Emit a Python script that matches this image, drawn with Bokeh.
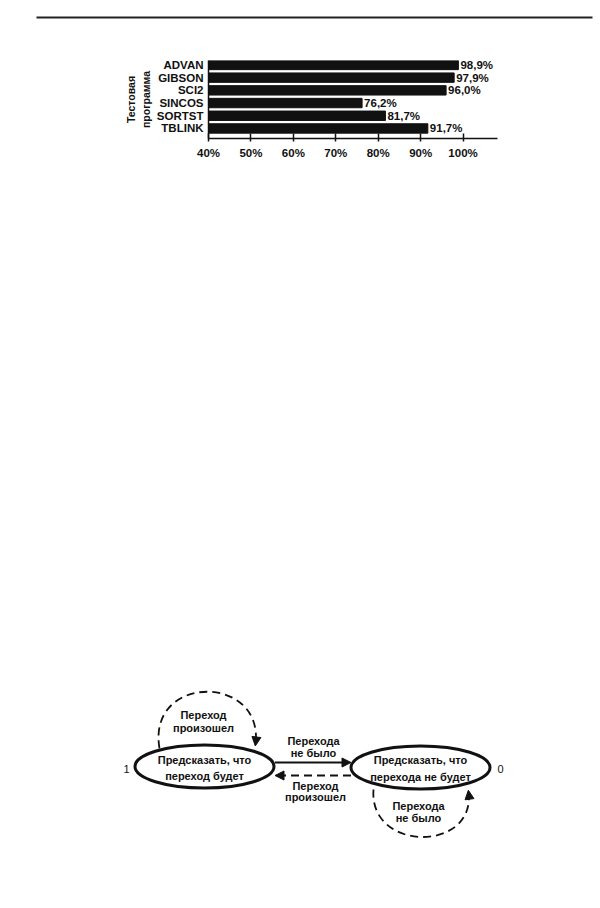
from bokeh.plotting import figure
from bokeh.models import Range1d, FixedTicker, Arrow, NormalHead
from bokeh.layouts import column
from bokeh.embed import file_html
from bokeh.resources import INLINE
from bokeh.core.properties import value

# ---------------- data: bar chart ----------------
programs = ["ADVAN", "GIBSON", "SCI2", "SINCOS", "SORTST", "TBLINK"]
accuracy = [98.9, 97.9, 96.0, 76.2, 81.7, 91.7]
x_ticks = [40, 50, 60, 70, 80, 90, 100]
x_tick_labels = ["40%", "50%", "60%", "70%", "80%", "90%", "100%"]
y_axis_title = "Тестовая\nпрограмма"

# ---------------- data: state diagram ----------------
state_codes = ["1", "0"]
state_line1 = ["Предсказать, что", "Предсказать, что"]
state_line2 = ["переход будет", "перехода не будет"]
taken_1 = "Переход"
taken_2 = "произошел"
not_taken_1 = "Перехода"
not_taken_2 = "не было"

FONT = value("Liberation Sans")
INK = "#111111"
W = 600

# ---------------- page rule ----------------
p0 = figure(width=W, height=28, x_range=Range1d(0, 600), y_range=Range1d(28, 0),
            x_axis_location=None, y_axis_location=None, toolbar_location=None,
            output_backend="svg", min_border=0, outline_line_color=None,
            frame_align=False)
p0.grid.visible = False
p0.segment(x0=[36], y0=[17], x1=[592], y1=[17], line_color="#222222", line_width=2)

# ---------------- bar chart ----------------
idx = list(range(len(programs)))
p1 = figure(width=W, height=152, x_range=Range1d(40, 110), y_range=Range1d(5.79, -0.35),
            toolbar_location=None, output_backend="svg",
            min_border_left=208, min_border_right=95, min_border_top=32, min_border_bottom=42,
            outline_line_color=None, frame_align=False)
p1.grid.visible = False

p1.hbar(y=idx, left=40, right=accuracy, height=0.74, fill_color=INK, line_color=INK)
val_labels = [("%.1f" % v).replace(".", ",") + "%" for v in accuracy]
p1.text(x=accuracy, y=idx, text=val_labels, x_offset=2, text_align="left",
        text_baseline="middle", text_font=FONT, text_font_style="bold",
        text_font_size="11.5px", text_color=INK)

xa = p1.xaxis[0]
xa.ticker = FixedTicker(ticks=x_ticks)
xa.major_label_overrides = {t: l for t, l in zip(x_ticks, x_tick_labels)}
xa.bounds = (40, 108)
xa.minor_tick_line_color = None
xa.major_tick_in = 5
xa.major_tick_out = 3
xa.major_tick_line_width = 1.5
xa.major_tick_line_color = INK
xa.axis_line_width = 1.5
xa.axis_line_color = INK
xa.major_label_standoff = 5
xa.major_label_text_font = "Liberation Sans"
xa.major_label_text_font_style = "bold"
xa.major_label_text_font_size = "11.5px"
xa.major_label_text_color = INK

ya = p1.yaxis[0]
ya.ticker = FixedTicker(ticks=idx)
ya.major_label_overrides = {i: n for i, n in zip(idx, programs)}
ya.minor_tick_line_color = None
ya.major_tick_line_color = None
ya.major_tick_in = 0
ya.major_tick_out = 0
ya.axis_line_width = 1.5
ya.axis_line_color = INK
ya.major_label_standoff = 5
ya.major_label_text_font = "Liberation Sans"
ya.major_label_text_font_style = "bold"
ya.major_label_text_font_size = "11.5px"
ya.major_label_text_color = INK
ya.axis_label = y_axis_title
ya.axis_label_standoff = 2
ya.axis_label_text_font = "Liberation Sans"
ya.axis_label_text_font_style = "bold"
ya.axis_label_text_font_size = "10.5px"
ya.axis_label_text_color = INK

# ---------------- state diagram ----------------
p2 = figure(width=W, height=728, x_range=Range1d(0, 600), y_range=Range1d(908, 180),
            x_axis_location=None, y_axis_location=None, toolbar_location=None,
            output_backend="svg", min_border=0, outline_line_color=None,
            frame_align=False)
p2.grid.visible = False

node_x = [204, 420]
node_y = [766, 767]
node_w = 139
node_h = 43

DASH = "8 5"

# self loops (dashed bezier curves)
loop_x0 = [159, 373]; loop_y0 = [748, 789]
loop_cx0 = [146, 368]; loop_cy0 = [673, 852]
loop_cx1 = [264, 476]; loop_cy1 = [673, 852]
loop_x1 = [255, 468]; loop_y1 = [744, 791]
p2.bezier(x0=loop_x0, y0=loop_y0, x1=loop_x1, y1=loop_y1,
          cx0=loop_cx0, cy0=loop_cy0, cx1=loop_cx1, cy1=loop_cy1,
          line_color=INK, line_width=1.8, line_dash=DASH)

for i in range(2):
    dx = loop_x1[i] - loop_cx1[i]
    dy = loop_y1[i] - loop_cy1[i]
    p2.add_layout(Arrow(end=NormalHead(size=9, fill_color=INK, line_color=INK),
                        x_start=loop_x1[i] - 0.08 * dx, y_start=loop_y1[i] - 0.08 * dy,
                        x_end=loop_x1[i] + 0.02 * dx, y_end=loop_y1[i] + 0.02 * dy,
                        line_color=None))

# states
p2.ellipse(x=node_x, y=node_y, width=node_w, height=node_h,
           fill_color="white", line_color=INK, line_width=3)

# transitions between states
left_edge = node_x[0] + node_w / 2
right_edge = node_x[1] - node_w / 2
p2.add_layout(Arrow(end=NormalHead(size=9, fill_color=INK, line_color=INK),
                    x_start=left_edge + 1, y_start=762, x_end=right_edge, y_end=762,
                    line_color=INK, line_width=2))
p2.add_layout(Arrow(end=NormalHead(size=9, fill_color=INK, line_color=INK),
                    x_start=right_edge, y_start=775, x_end=left_edge + 1, y_end=775,
                    line_color=INK, line_width=1.8, line_dash=DASH))

# texts
txt = [state_line1[0], state_line2[0], state_line1[1], state_line2[1],
       not_taken_1, not_taken_2, taken_1, taken_2,
       taken_1, taken_2, not_taken_1, not_taken_2]
tx = [204, 204, 420, 420, 313, 313, 315, 315, 203, 203, 418, 418]
ty = [759, 775, 759, 776, 740, 752, 785, 796, 714, 727, 805, 817]
p2.text(x=tx, y=ty, text=txt, text_align="center", text_baseline="middle",
        text_font=FONT, text_font_style="bold", text_font_size="11px", text_color=INK)

p2.text(x=[126, 500], y=[768, 768], text=state_codes, text_align="center",
        text_baseline="middle", text_font=FONT, text_font_size="11px", text_color=INK)

layout = column(p0, p1, p2)
open("out.html", "w").write(file_html(layout, INLINE))
